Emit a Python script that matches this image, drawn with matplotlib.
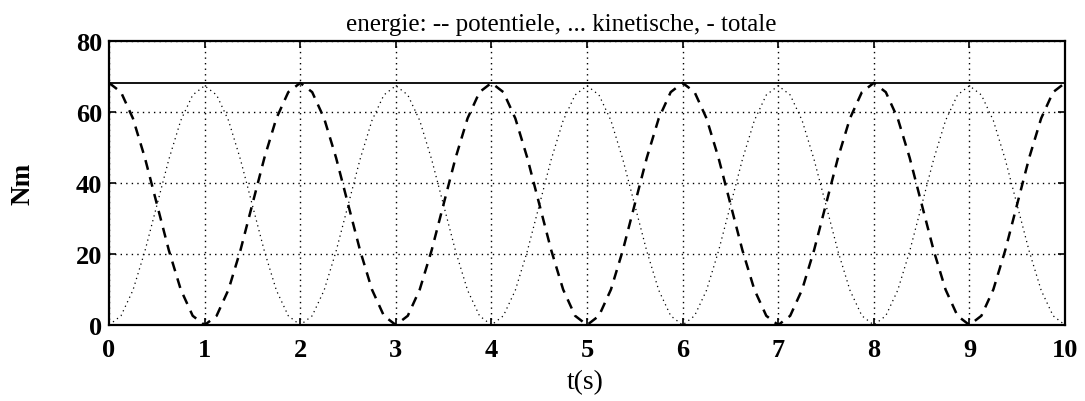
import numpy as np
import matplotlib
matplotlib.use("Agg")
import matplotlib.pyplot as plt

# time axis in steps of 1/8 s
t = np.arange(0, 81) * 0.125

# potential energy (Nm), peaks at even seconds
e_pot = [
    68.2, 65.6, 58.2, 47.1, 34.1, 21.1, 10.0, 2.6, 0.0,
    2.6, 10.0, 21.1, 34.1, 47.1, 58.2, 65.6, 68.2,
    65.6, 58.2, 47.1, 34.1, 21.1, 10.0, 2.6, 0.0,
    2.6, 10.0, 21.1, 34.1, 47.1, 58.2, 65.6, 68.2,
    65.6, 58.2, 47.1, 34.1, 21.1, 10.0, 2.6, 0.0,
    2.6, 10.0, 21.1, 34.1, 47.1, 58.2, 65.6, 68.2,
    65.6, 58.2, 47.1, 34.1, 21.1, 10.0, 2.6, 0.0,
    2.6, 10.0, 21.1, 34.1, 47.1, 58.2, 65.6, 68.2,
    65.6, 58.2, 47.1, 34.1, 21.1, 10.0, 2.6, 0.0,
    2.6, 10.0, 21.1, 34.1, 47.1, 58.2, 65.6, 68.2,
]

# kinetic energy (Nm), peaks at odd seconds
e_kin = [
    0.0, 2.6, 9.8, 20.8, 33.7, 46.6, 57.6, 64.8, 67.4,
    64.8, 57.6, 46.6, 33.7, 20.8, 9.8, 2.6, 0.0,
    2.6, 9.8, 20.8, 33.7, 46.6, 57.6, 64.8, 67.4,
    64.8, 57.6, 46.6, 33.7, 20.8, 9.8, 2.6, 0.0,
    2.6, 9.8, 20.8, 33.7, 46.6, 57.6, 64.8, 67.4,
    64.8, 57.6, 46.6, 33.7, 20.8, 9.8, 2.6, 0.0,
    2.6, 9.8, 20.8, 33.7, 46.6, 57.6, 64.8, 67.4,
    64.8, 57.6, 46.6, 33.7, 20.8, 9.8, 2.6, 0.0,
    2.6, 9.8, 20.8, 33.7, 46.6, 57.6, 64.8, 67.4,
    64.8, 57.6, 46.6, 33.7, 20.8, 9.8, 2.6, 0.0,
]

# total energy
t_tot = [0, 10]
e_tot = [68.2, 68.2]

x_ticks = list(range(0, 11))
y_ticks = [0, 20, 40, 60, 80]

plt.rcParams["font.family"] = ["Liberation Serif", "DejaVu Serif"]

fig = plt.figure(figsize=(10.85, 4.02), dpi=100)
ax = fig.add_axes([0.1005, 0.189, 0.8811, 0.7065])

ax.plot(t, e_pot, color="black", lw=1.8, linestyle=(0, (4, 3)))
ax.plot(t, e_kin, color="black", lw=0.9, linestyle=(0, (1, 3)))
ax.plot(t_tot, e_tot, color="black", lw=1.3)

ax.set_xlim(0, 10)
ax.set_ylim(0, 80)
ax.set_xticks(x_ticks)
ax.set_yticks(y_ticks)
ax.grid(True, color="black", linestyle=(0, (1, 3)), lw=1.0)
ax.tick_params(direction="in", length=5, width=1.2, top=True, right=True,
               labelsize=19)
ax.tick_params(axis="x", pad=9)
ax.tick_params(axis="y", pad=5)
for lbl in ax.get_xticklabels() + ax.get_yticklabels():
    lbl.set_fontweight("bold")
for sp in ax.spines.values():
    sp.set_linewidth(1.6)

fig.text(0.517, 0.923, "energie: -- potentiele, ... kinetische, - totale",
         fontsize=18, ha="center", va="baseline")
fig.text(0.539, 0.047, "t(s)", fontsize=20, ha="center", va="center")
fig.text(0.021, 0.542, "Nm", fontsize=19.5, fontweight="bold", rotation=90,
         ha="center", va="center")

fig.savefig("out.png", dpi=100)
